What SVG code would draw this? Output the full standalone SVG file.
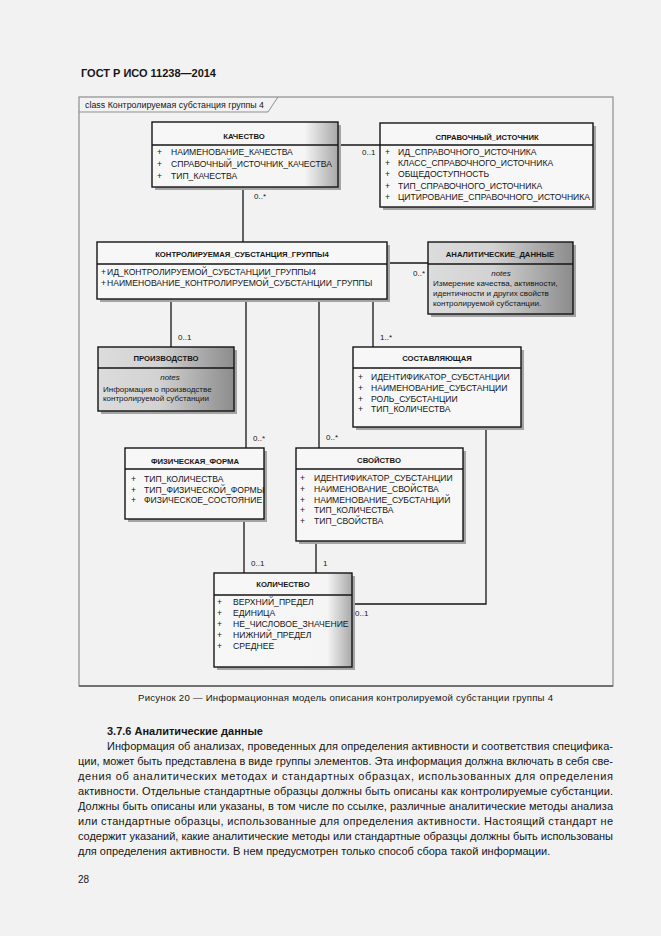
<svg xmlns="http://www.w3.org/2000/svg" width="661" height="936" viewBox="0 0 661 936">
<style>
text{font-family:"Liberation Sans",Arial,sans-serif;fill:#161616}
.box{stroke:#141414;stroke-width:1.4}
.plain{fill:#f7f7f7}
.grad{fill:url(#gw)}
.note{fill:url(#gn)}
.shadow{fill:#a4a4a4}
.sep{stroke:#141414;stroke-width:1.3}
.title{font-weight:bold;font-size:7.7px;text-anchor:middle}
.attr{font-size:8.6px}
.ntxt{font-size:8px}
.nlab{font-size:8px;font-style:italic;text-anchor:middle}
.mult{font-size:8px}
.conn line,.conn path{stroke:#141414;stroke-width:1.3;fill:none}
.body{font-size:11px}
</style>
<defs>
<linearGradient id="gw" x1="0" y1="0" x2="1" y2="0">
<stop offset="0" stop-color="#f7f7f7"/><stop offset="0.82" stop-color="#f5f5f5"/><stop offset="1" stop-color="#a8a8a8"/>
</linearGradient>
<linearGradient id="gn" x1="0" y1="0" x2="1" y2="0">
<stop offset="0" stop-color="#dcdcdc"/><stop offset="0.45" stop-color="#d2d2d2"/><stop offset="1" stop-color="#8c8c8c"/>
</linearGradient>
</defs>
<rect x="0" y="0" width="661" height="936" fill="#f2f2f2"/>

<text x="81" y="77" font-size="11" font-weight="bold" textLength="135" lengthAdjust="spacingAndGlyphs">ГОСТ Р ИСО 11238—2014</text>

<g id="frame">
<rect x="79" y="97" width="534" height="589" fill="none" stroke="#8e8e8e" stroke-width="1.2"/>
<line x1="79" y1="686" x2="613" y2="686" stroke="#5a5a5a" stroke-width="1.4"/>
<path d="M79,112 H268 L278,97" fill="none" stroke="#8e8e8e" stroke-width="1"/>
<text x="85" y="108" font-size="8.5" textLength="179" lengthAdjust="spacingAndGlyphs">class Контролируемая субстанция группы 4</text>
</g>

<g class="conn" id="connectors">
<line x1="338" y1="145" x2="380" y2="145"/>
<line x1="243" y1="187" x2="243" y2="242"/>
<line x1="387" y1="263" x2="428" y2="263"/>
<line x1="171" y1="299" x2="171" y2="347"/>
<line x1="246" y1="299" x2="246" y2="448"/>
<line x1="319" y1="299" x2="319" y2="448"/>
<line x1="373" y1="299" x2="373" y2="347"/>
<line x1="244" y1="519" x2="244" y2="573"/>
<line x1="316" y1="541" x2="316" y2="573"/>
<path d="M486,427 V604 H352"/>
<text class="mult" x="362" y="155">0..1</text>
<text class="mult" x="254" y="199">0..*</text>
<text class="mult" x="413" y="276">0..*</text>
<text class="mult" x="178" y="340">0..1</text>
<text class="mult" x="380" y="340">1..*</text>
<text class="mult" x="253" y="441">0..*</text>
<text class="mult" x="326" y="440">0..*</text>
<text class="mult" x="251" y="566">0..1</text>
<text class="mult" x="323" y="566">1</text>
<text class="mult" x="355" y="616">0..1</text>
</g>

<g id="kachestvo">
<rect class="shadow" x="155" y="125" width="186" height="65"/>
<rect class="box grad" x="152" y="122" width="186" height="65"/>
<line class="sep" x1="152" y1="145" x2="338" y2="145"/>
<text class="title" x="244" y="139">КАЧЕСТВО</text>
<text class="attr" x="157" y="155">+</text><text class="attr" x="171" y="155">НАИМЕНОВАНИЕ_КАЧЕСТВА</text>
<text class="attr" x="157" y="167">+</text><text class="attr" x="171" y="167">СПРАВОЧНЫЙ_ИСТОЧНИК_КАЧЕСТВА</text>
<text class="attr" x="157" y="179">+</text><text class="attr" x="171" y="179">ТИП_КАЧЕСТВА</text>
</g>

<g id="spravochny">
<rect class="shadow" x="383" y="126" width="213" height="84"/>
<rect class="box plain" x="380" y="123" width="213" height="84"/>
<line class="sep" x1="380" y1="145" x2="593" y2="145"/>
<text class="title" x="487" y="140">СПРАВОЧНЫЙ_ИСТОЧНИК</text>
<text class="attr" x="385" y="155">+</text><text class="attr" x="398" y="155">ИД_СПРАВОЧНОГО_ИСТОЧНИКА</text>
<text class="attr" x="385" y="166">+</text><text class="attr" x="398" y="166">КЛАСС_СПРАВОЧНОГО_ИСТОЧНИКА</text>
<text class="attr" x="385" y="177">+</text><text class="attr" x="398" y="177">ОБЩЕДОСТУПНОСТЬ</text>
<text class="attr" x="385" y="189">+</text><text class="attr" x="398" y="189">ТИП_СПРАВОЧНОГО_ИСТОЧНИКА</text>
<text class="attr" x="385" y="200">+</text><text class="attr" x="398" y="200">ЦИТИРОВАНИЕ_СПРАВОЧНОГО_ИСТОЧНИКА</text>
</g>

<g id="kontr">
<rect class="shadow" x="100" y="245" width="290" height="57"/>
<rect class="box plain" x="97" y="242" width="290" height="57"/>
<line class="sep" x1="97" y1="264" x2="387" y2="264"/>
<text class="title" x="242" y="257">КОНТРОЛИРУЕМАЯ_СУБСТАНЦИЯ_ГРУППЫ4</text>
<text class="attr" x="101" y="275">+</text><text class="attr" x="107" y="275">ИД_КОНТРОЛИРУЕМОЙ_СУБСТАНЦИИ_ГРУППЫ4</text>
<text class="attr" x="101" y="286">+</text><text class="attr" x="107" y="286">НАИМЕНОВАНИЕ_КОНТРОЛИРУЕМОЙ_СУБСТАНЦИИ_ГРУППЫ</text>
</g>

<g id="analit">
<rect class="shadow" x="431" y="245" width="145" height="72"/>
<rect class="box note" x="428" y="242" width="145" height="72"/>
<line class="sep" x1="428" y1="264" x2="573" y2="264"/>
<text class="title" x="500" y="257">АНАЛИТИЧЕСКИЕ_ДАННЫЕ</text>
<text class="nlab" x="501" y="276">notes</text>
<text class="ntxt" x="433" y="286">Измерение качества, активности,</text>
<text class="ntxt" x="433" y="296">идентичности и других свойств</text>
<text class="ntxt" x="433" y="306">контролируемой субстанции.</text>
</g>

<g id="proizvodstvo">
<rect class="shadow" x="101" y="350" width="136" height="64"/>
<rect class="box note" x="98" y="347" width="136" height="64"/>
<line class="sep" x1="98" y1="368" x2="234" y2="368"/>
<text class="title" x="166" y="361">ПРОИЗВОДСТВО</text>
<text class="nlab" x="170" y="380">notes</text>
<text class="ntxt" x="103" y="392">Информация о производстве</text>
<text class="ntxt" x="103" y="401">контролируемой субстанции</text>
</g>

<g id="sostavl">
<rect class="shadow" x="356" y="350" width="168" height="80"/>
<rect class="box plain" x="353" y="347" width="168" height="80"/>
<line class="sep" x1="353" y1="368" x2="521" y2="368"/>
<text class="title" x="437" y="361">СОСТАВЛЯЮЩАЯ</text>
<text class="attr" x="358" y="380">+</text><text class="attr" x="371" y="380">ИДЕНТИФИКАТОР_СУБСТАНЦИИ</text>
<text class="attr" x="358" y="391">+</text><text class="attr" x="371" y="391">НАИМЕНОВАНИЕ_СУБСТАНЦИИ</text>
<text class="attr" x="358" y="402">+</text><text class="attr" x="371" y="402">РОЛЬ_СУБСТАНЦИИ</text>
<text class="attr" x="358" y="412">+</text><text class="attr" x="371" y="412">ТИП_КОЛИЧЕСТВА</text>
</g>

<g id="fizich">
<rect class="shadow" x="128" y="451" width="139" height="71"/>
<rect class="box plain" x="125" y="448" width="139" height="71"/>
<line class="sep" x1="125" y1="469" x2="264" y2="469"/>
<text class="title" x="195" y="464">ФИЗИЧЕСКАЯ_ФОРМА</text>
<text class="attr" x="131" y="482">+</text><text class="attr" x="144" y="482">ТИП_КОЛИЧЕСТВА</text>
<text class="attr" x="131" y="493">+</text><text class="attr" x="144" y="493">ТИП_ФИЗИЧЕСКОЙ_ФОРМЫ</text>
<text class="attr" x="131" y="503">+</text><text class="attr" x="144" y="503">ФИЗИЧЕСКОЕ_СОСТОЯНИЕ</text>
</g>

<g id="svoistvo">
<rect class="shadow" x="299" y="451" width="167" height="93"/>
<rect class="box plain" x="296" y="448" width="167" height="93"/>
<line class="sep" x1="296" y1="469" x2="463" y2="469"/>
<text class="title" x="379" y="463">СВОЙСТВО</text>
<text class="attr" x="300" y="481">+</text><text class="attr" x="314" y="481">ИДЕНТИФИКАТОР_СУБСТАНЦИИ</text>
<text class="attr" x="300" y="492">+</text><text class="attr" x="314" y="492">НАИМЕНОВАНИЕ_СВОЙСТВА</text>
<text class="attr" x="300" y="503">+</text><text class="attr" x="314" y="503">НАИМЕНОВАНИЕ_СУБСТАНЦИЙ</text>
<text class="attr" x="300" y="513">+</text><text class="attr" x="314" y="513">ТИП_КОЛИЧЕСТВА</text>
<text class="attr" x="300" y="524">+</text><text class="attr" x="314" y="524">ТИП_СВОЙСТВА</text>
</g>

<g id="kolichestvo">
<rect class="shadow" x="217" y="576" width="138" height="94"/>
<rect class="box grad" x="214" y="573" width="138" height="94"/>
<line class="sep" x1="214" y1="595" x2="352" y2="595"/>
<text class="title" x="283" y="587">КОЛИЧЕСТВО</text>
<text class="attr" x="217" y="605">+</text><text class="attr" x="233" y="605">ВЕРХНИЙ_ПРЕДЕЛ</text>
<text class="attr" x="217" y="616">+</text><text class="attr" x="233" y="616">ЕДИНИЦА</text>
<text class="attr" x="217" y="627">+</text><text class="attr" x="233" y="627">НЕ_ЧИСЛОВОЕ_ЗНАЧЕНИЕ</text>
<text class="attr" x="217" y="638">+</text><text class="attr" x="233" y="638">НИЖНИЙ_ПРЕДЕЛ</text>
<text class="attr" x="217" y="649">+</text><text class="attr" x="233" y="649">СРЕДНЕЕ</text>
</g>

<text x="138" y="701" font-size="9.6" textLength="415" lengthAdjust="spacing" fill="#303030">Рисунок  20 — Информационная модель описания контролируемой субстанции группы 4</text>

<text x="107" y="735" font-size="11" font-weight="bold">3.7.6  Аналитические данные</text>
<g class="body">
<text class="body" x="107" y="750" textLength="506" lengthAdjust="spacing">Информация об анализах, проведенных для определения активности и соответствия специфика-</text>
<text class="body" x="78" y="765" textLength="535" lengthAdjust="spacing">ции, может быть представлена в виде группы элементов. Эта информация должна включать в себя све-</text>
<text class="body" x="78" y="780" textLength="535" lengthAdjust="spacing">дения об аналитических методах и стандартных образцах, использованных для определения</text>
<text class="body" x="78" y="795" textLength="535" lengthAdjust="spacing">активности. Отдельные стандартные образцы должны быть описаны как контролируемые субстанции.</text>
<text class="body" x="78" y="810" textLength="535" lengthAdjust="spacing">Должны быть описаны или указаны, в том числе по ссылке, различные аналитические методы анализа</text>
<text class="body" x="78" y="825" textLength="535" lengthAdjust="spacing">или стандартные образцы, использованные для определения активности. Настоящий стандарт не</text>
<text class="body" x="78" y="840" textLength="535" lengthAdjust="spacing">содержит указаний, какие аналитические методы или стандартные образцы должны быть использованы</text>
<text class="body" x="78" y="855">для определения активности. В нем предусмотрен только способ сбора такой информации.</text>
</g>
<text x="78" y="883" font-size="10">28</text>
</svg>
